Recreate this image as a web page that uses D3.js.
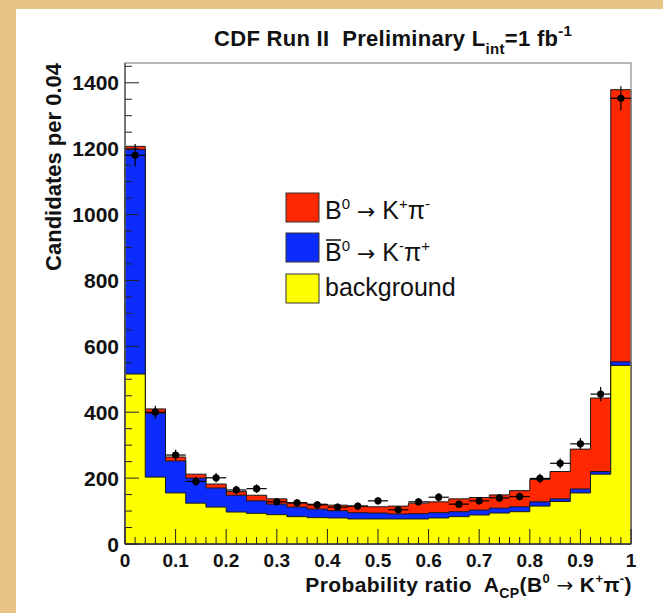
<!DOCTYPE html>
<html><head><meta charset="utf-8">
<script src="https://cdn.jsdelivr.net/npm/d3@7"></script>
<style>
body{margin:0;background:#e6c586;}
svg{display:block;}
text{font-family:"Liberation Sans",Arial,Helvetica,sans-serif;white-space:pre;}
.arr{font-family:"DejaVu Sans",sans-serif;font-weight:normal;}
</style>
</head><body>
<svg id="c" width="663" height="613"></svg>
<script>
// ---- data ----
const binLow = [0,0.04,0.08,0.12,0.16,0.20,0.24,0.28,0.32,0.36,0.40,0.44,0.48,0.52,0.56,0.60,0.64,0.68,0.72,0.76,0.80,0.84,0.88,0.92,0.96];
const binWidth = 0.04;
const background = [516,203,155,124,112,97,93,89,83,80,79,76,76,76,76,79,83,88,94,98,115,129,155,212,542];
const b0barKpi   = [681,194,97,76,58,51,38,32,29,26,22,19,18,15,16,16,15,15,15,15,13,8,12,8,11];
const b0Kpi      = [10,13,12,12,12,11,17,16,13,15,17,20,19,24,32,33,39,38,40,49,68,83,121,223,826];
const dataCounts = [1180,400,270,190,201,164,168,128,125,119,112,115,131,104,128,142,121,131,140,144,199,245,304,455,1353];
const xTickValues = [0,0.1,0.2,0.3,0.4,0.5,0.6,0.7,0.8,0.9,1];
const xTickLabels = ["0","0.1","0.2","0.3","0.4","0.5","0.6","0.7","0.8","0.9","1"];
const yTickValues = [0,200,400,600,800,1000,1200,1400];
const yTickLabels = ["0","200","400","600","800","1000","1200","1400"];
const colors = {red:"#ff2800", blue:"#0c2cff", yellow:"#ffff00"};

// ---- layout ----
const svg = d3.select("#c");
svg.append("rect").attr("x",16).attr("y",9).attr("width",647).attr("height",604).attr("fill","#ffffff");

const xs = d3.scaleLinear().domain([0,1]).range([125,631]);
const ys = d3.scaleLinear().domain([0,1460]).range([544,63]);

// stacked layers
const rows = binLow.map((x,i)=>({x, bg:background[i], blue:b0barKpi[i], red:b0Kpi[i]}));
const stack = d3.stack().keys(["bg","blue","red"])(rows);
const fills = {bg:colors.yellow, blue:colors.blue, red:colors.red};

const area = d3.area()
  .x(d=>xs(d.x)).y0(ys(0)).y1(d=>ys(d.v))
  .curve(d3.curveStepAfter);

[...stack].reverse().forEach(layer=>{
  const pts = layer.map((s,i)=>({x:binLow[i], v:s[1]}));
  pts.push({x:binLow[binLow.length-1]+binWidth, v:pts[pts.length-1].v});
  svg.append("path").attr("d",area(pts))
    .attr("fill",fills[layer.key]).attr("stroke","#1a1a1a").attr("stroke-width",1);
});

// frame
svg.append("rect").attr("x",xs(0)).attr("y",ys(1460)).attr("width",xs(1)-xs(0)).attr("height",ys(0)-ys(1460))
  .attr("fill","none").attr("stroke","#8a8a8a").attr("stroke-width",1.2);

// ticks (inside)
const g = svg.append("g").attr("stroke","#222").attr("stroke-width",1);
d3.range(0,1451,50).forEach(v=>{
  const major = v%200===0;
  g.append("line").attr("x1",xs(0)).attr("x2",xs(0)+(major?14:7)).attr("y1",ys(v)).attr("y2",ys(v));
});
d3.range(0,51).forEach(k=>{
  const v=k*0.02, major = k%5===0;
  g.append("line").attr("x1",xs(v)).attr("x2",xs(v)).attr("y1",ys(0)).attr("y2",ys(0)-(major?15:7));
});
svg.append("line").attr("x1",xs(0)).attr("x2",xs(1)).attr("y1",ys(0)).attr("y2",ys(0)).attr("stroke","#222");
svg.append("line").attr("x1",xs(0)).attr("x2",xs(0)).attr("y1",ys(0)).attr("y2",ys(1460)).attr("stroke","#333");

// tick labels
yTickValues.forEach((v,i)=>{
  svg.append("text").attr("x",119).attr("y",ys(v)+7.5).attr("text-anchor","end")
    .attr("font-size",21).attr("font-weight","bold").attr("fill","#111").text(yTickLabels[i]);
});
xTickValues.forEach((v,i)=>{
  svg.append("text").attr("x",xs(v)).attr("y",567).attr("text-anchor","middle")
    .attr("font-size",19).attr("font-weight","bold").attr("fill","#111").text(xTickLabels[i]);
});

// data points with error bars
const pg = svg.append("g").attr("stroke","#000").attr("stroke-width",1.2);
dataCounts.forEach((n,i)=>{
  const xc = binLow[i]+binWidth/2, err=Math.sqrt(n);
  pg.append("line").attr("x1",xs(binLow[i])).attr("x2",xs(binLow[i]+binWidth)).attr("y1",ys(n)).attr("y2",ys(n));
  pg.append("line").attr("x1",xs(xc)).attr("x2",xs(xc)).attr("y1",ys(n-err)).attr("y2",ys(n+err));
  svg.append("circle").attr("cx",xs(xc)).attr("cy",ys(n)).attr("r",3.6).attr("fill","#000");
});

// axis titles
svg.append("text").attr("transform","translate(61,63) rotate(-90)").attr("text-anchor","end")
  .attr("font-size",22).attr("font-weight","bold").attr("fill","#111").text("Candidates per 0.04");

const xt = svg.append("text").attr("x",632).attr("y",592).attr("text-anchor","end")
  .attr("font-size",21).attr("font-weight","bold").attr("letter-spacing",0.4).attr("fill","#111");
xt.append("tspan").text("Probability ratio  A");
xt.append("tspan").attr("font-size",14).attr("dy",6).text("CP");
xt.append("tspan").attr("dy",-6).text("(B");
xt.append("tspan").attr("font-size",13).attr("dy",-9).text("0");
xt.append("tspan").attr("dy",9).text(" ");
xt.append("tspan").attr("class","arr").attr("font-size",20).text("\u2192");
xt.append("tspan").text(" K");
xt.append("tspan").attr("font-size",13).attr("dy",-9).text("+");
xt.append("tspan").attr("dy",9).text("\u03c0");
xt.append("tspan").attr("font-size",13).attr("dy",-9).text("-");
xt.append("tspan").attr("dy",9).text(")");

// title
const tt = svg.append("text").attr("x",214).attr("y",46).attr("font-size",22).attr("font-weight","bold")
  .attr("letter-spacing",0.3).attr("fill","#111");
tt.append("tspan").text("CDF Run II  Preliminary L");
tt.append("tspan").attr("font-size",15).attr("dy",8).text("int");
tt.append("tspan").attr("dy",-8).text("=1 fb");
tt.append("tspan").attr("font-size",15).attr("dy",-10).text("-1");

// legend
const legendItems = [
  {key:"red", fill:colors.red},
  {key:"blue", fill:colors.blue},
  {key:"bg", fill:colors.yellow}
];
const ly = [193,233,274];
legendItems.forEach((it,i)=>{
  svg.append("rect").attr("x",286).attr("y",ly[i]).attr("width",33).attr("height",29)
    .attr("fill",it.fill).attr("stroke","#333").attr("stroke-width",1);
});
const lf = 25;
function legText(y){ return svg.append("text").attr("x",325).attr("y",y).attr("font-size",lf).attr("fill","#111"); }
function decay(t, s1, s2){
  t.append("tspan").text("B");
  t.append("tspan").attr("font-size",15).attr("dy",-10).text("0");
  t.append("tspan").attr("dy",10).text(" ");
  t.append("tspan").attr("class","arr").attr("font-size",22).text("\u2192");
  t.append("tspan").text(" K");
  t.append("tspan").attr("font-size",15).attr("dy",-10).text(s1);
  t.append("tspan").attr("dy",10).text("\u03c0");
  t.append("tspan").attr("font-size",15).attr("dy",-10).text(s2);
}
decay(legText(219), "+", "-");
decay(legText(261), "-", "+");
svg.append("line").attr("x1",326).attr("x2",341).attr("y1",240).attr("y2",240).attr("stroke","#111").attr("stroke-width",1.5);
legText(296).text("background");
</script>
</body></html>
